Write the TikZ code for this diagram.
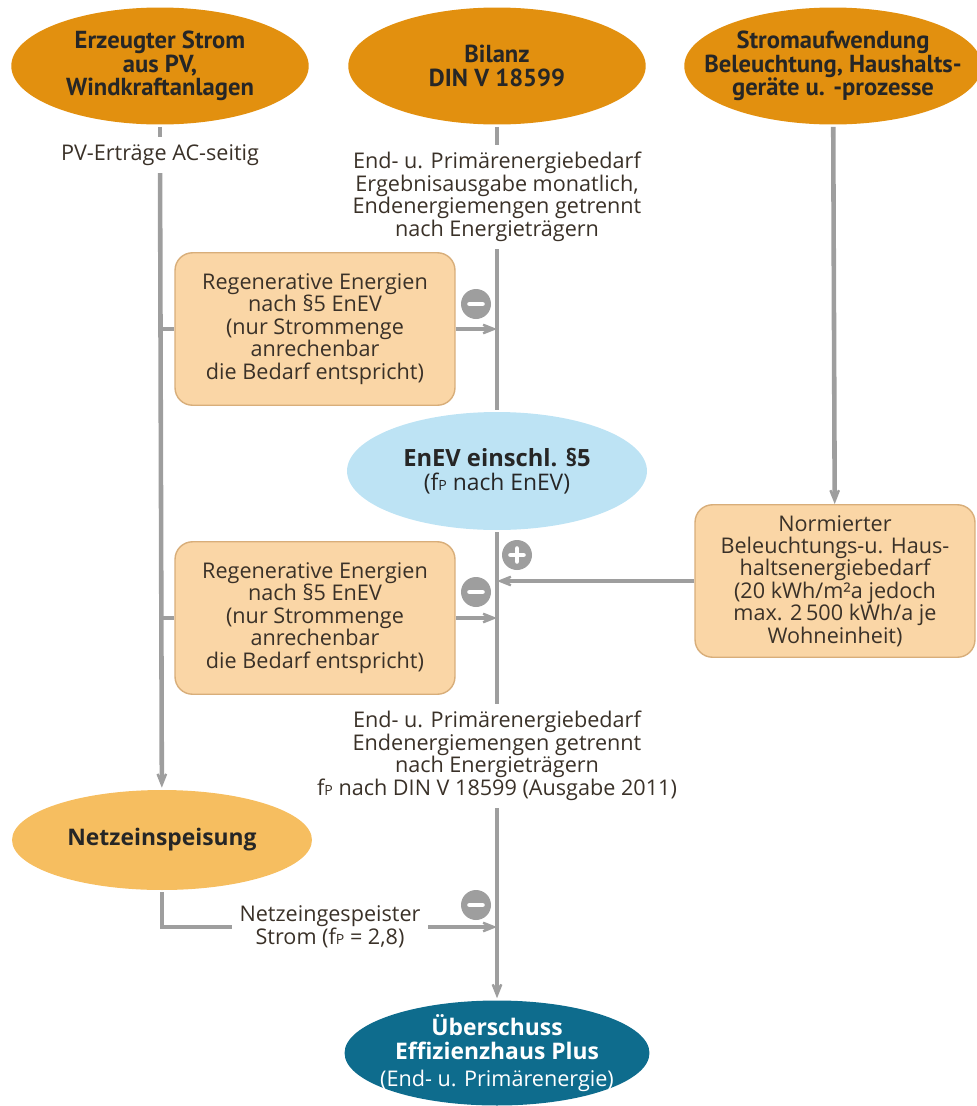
\documentclass[tikz,border=0pt]{standalone}
\usepackage{fontspec}
\setmainfont{Open Sans}
\newfontfamily\headfont{PT Sans}
\usepackage{xcolor}
\usepackage{tikz}
\usetikzlibrary{shapes.geometric, arrows.meta, positioning}
\definecolor{darkorange}{HTML}{E2900F}
\definecolor{lightorange}{HTML}{F6BE60}
\definecolor{peach}{HTML}{FAD6A6}
\definecolor{peachline}{HTML}{D8AE7A}
\definecolor{skyblue}{HTML}{BDE3F4}
\definecolor{petrol}{HTML}{0E6C8D}
\definecolor{linegray}{HTML}{9E9E9E}
\definecolor{textgray}{HTML}{3A3128}
\newcommand{\fP}{f{\footnotesize P}}

\begin{document}
\begin{tikzpicture}[x=0.02cm, y=-0.02cm,
  head/.style={ellipse, fill=darkorange, minimum width=5.95cm, minimum height=2.34cm,
               align=center, inner xsep=-1.2cm, inner ysep=-0.3cm, text=black!85,
               font=\headfont\bfseries\fontsize{14}{13.5}\selectfont},
  oval/.style={ellipse, minimum width=6cm, minimum height=2cm, align=center,
               inner xsep=-0.8cm, inner ysep=-0.3cm, font=\fontsize{13}{14}\selectfont},
  regbox/.style={draw=peachline, fill=peach, rounded corners=0.35cm, align=center,
                 minimum width=5.6cm, minimum height=3.05cm, inner sep=2pt,
                 line width=0.8pt, text=textgray,
                 font=\fontsize{12.3}{12.8}\selectfont},
  note/.style={align=center, inner sep=3pt, text=textgray,
               font=\fontsize{12.3}{12.8}\selectfont},
  sign/.style={circle, fill=linegray, minimum size=0.6cm, inner sep=0pt},
  minussign/.style={sign, path picture={
      \draw[white, line width=2.8pt, line cap=round]
        ([xshift=-3.6pt]path picture bounding box.center) -- ++(7.2pt,0);}},
  plussign/.style={sign, path picture={
      \draw[white, line width=2.8pt, line cap=round]
        ([xshift=-3.6pt]path picture bounding box.center) -- ++(7.2pt,0)
        ([yshift=-3.6pt]path picture bounding box.center) -- ++(0,7.2pt);}},
  every path/.style={draw=linegray, line width=2.6pt},
  flow/.style={-{Stealth[length=5mm, width=4mm, inset=3.2mm]}}
]
\path[use as bounding box, draw=none] (0,0) rectangle (977,1106);
\node[head] (erz)   at (160,  66) {Erzeugter Strom\\aus PV,\\Windkraftanlagen};
\node[head] (bil)   at (497,  66) {Bilanz\\DIN V 18599};
\node[head] (aufw)  at (833,  66) {Stromaufwendung\\Beleuchtung, Haushalts-\\geräte u. -prozesse};
\node[note] (pv)    at (160, 155) {PV-Erträge AC-seitig};
\node[note] (bilt)  at (497, 197) {End- u. Primärenergiebedarf\\Ergebnisausgabe monatlich,\\Endenergiemengen getrennt\\nach Energieträgern};
\node[regbox] (reg1) at (315, 329) {Regenerative Energien\\nach §5 EnEV\\(nur Strommenge\\anrechenbar\\die Bedarf entspricht)};
\node[oval, fill=skyblue, minimum height=2.36cm, text=black!85] (enev) at (497, 471)
  {\textbf{\fontsize{13.5}{15}\selectfont EnEV einschl. §5}\\(\fP{} nach EnEV)};
\node[regbox] (reg2) at (315, 618) {Regenerative Energien\\nach §5 EnEV\\(nur Strommenge\\anrechenbar\\die Bedarf entspricht)};
\node[regbox] (norm) at (835, 581) {Normierter\\Beleuchtungs-u. Haus-\\haltsenergiebedarf\\(20 kWh/m²a jedoch\\max. 2\,500 kWh/a je\\Wohneinheit)};
\node[note] (endt)  at (497, 756) {End- u. Primärenergiebedarf\\Endenergiemengen getrennt\\nach Energieträgern\\\fP{} nach DIN V 18599 (Ausgabe 2011)};
\node[oval, fill=lightorange, text=black!85] (netz) at (162, 840) {\textbf{Netzeinspeisung}};
\node[note] (feed)  at (330, 927) {Netzeingespeister\\Strom (\fP{} = 2,8)};
\node[oval, fill=petrol, text=white, minimum width=6.1cm, minimum height=2.1cm,
      font=\fontsize{12.3}{13.5}\selectfont] (ueber) at (497, 1053)
  {\textbf{\fontsize{13}{14}\selectfont Überschuss}\\\textbf{\fontsize{13}{14}\selectfont Effizienzhaus Plus}\\[2pt](End- u. Primärenergie)};
\node[minussign] (m1) at (476, 304) {};
\node[plussign]  (p1) at (517, 555) {};
\node[minussign] (m2) at (476, 592) {};
\node[minussign] (m3) at (476, 905) {};
\draw (erz)  -- (pv);
\draw[flow] (pv) -- (netz);
\draw (reg1.west -| pv) -- (reg1.west);
\draw (reg2.west -| pv) -- (reg2.west);
\draw (bil)  -- (bilt);
\draw (bilt) -- (enev);
\draw[flow] (reg1.east) -- (reg1.east -| enev);
\draw (enev) -- (endt);
\draw[flow] (reg2.east) -- (reg2.east -| enev);
\draw[flow] (aufw) -- (norm);
\draw[flow] (norm.west) -- (norm.west -| enev);
\draw[flow] (endt) -- (ueber);
\draw (netz.south) |- (feed.west);
\draw[flow] (feed.east) -- (feed.east -| enev);
\end{tikzpicture}
\end{document}
